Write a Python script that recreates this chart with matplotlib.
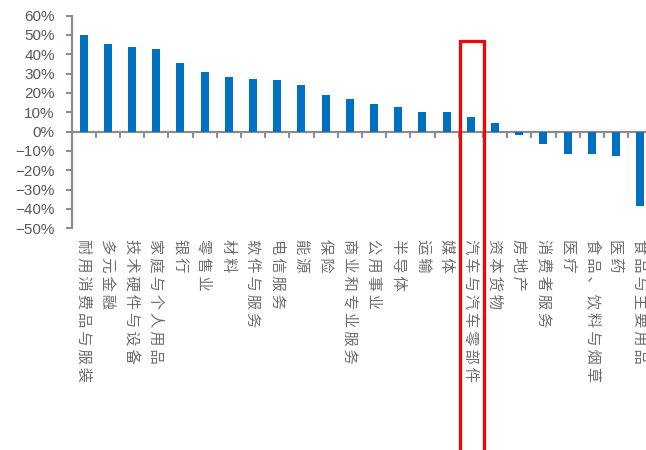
import matplotlib.pyplot as plt
from matplotlib.patches import Rectangle
from matplotlib.ticker import FuncFormatter, FixedLocator
import matplotlib.transforms as mtransforms

plt.rcParams["font.family"] = ["Liberation Sans", "Noto Sans CJK SC", "DejaVu Sans"]

categories = ["耐用消费品与服装", "多元金融", "技术硬件与设备", "家庭与个人用品", "银行",
              "零售业", "材料", "软件与服务", "电信服务", "能源", "保险", "商业和专业服务",
              "公用事业", "半导体", "运输", "媒体", "汽车与汽车零部件", "资本货物", "房地产",
              "消费者服务", "医疗", "食品、饮料与烟草", "医药", "食品与主要用品"]
values = [49.8, 45.2, 44.0, 42.6, 35.7, 30.7, 28.0, 27.2, 26.9, 24.3, 18.9, 16.9,
          14.4, 12.6, 10.2, 10.0, 7.4, 4.3, -1.8, -6.5, -11.5, -11.8, -12.8, -38.7]
highlight = "汽车与汽车零部件"

gray = "#8c8c8c"
text_gray = "#595959"

fig = plt.figure(figsize=(6.46, 4.5), dpi=100)
ax = fig.add_axes([71.5 / 646, 1 - 228.3 / 450, (652.3 - 71.5) / 646, (228.3 - 15.6) / 450])

x = list(range(len(categories)))
ax.bar(x, values, width=0.33, color="#0070C0", zorder=3)

ax.set_xlim(-0.5, len(categories) - 0.5)
ax.set_ylim(-50, 60)
ax.set_yticks(range(-50, 61, 10))
ax.yaxis.set_major_formatter(FuncFormatter(lambda v, p: "{:.0f}%".format(v).replace("-", "\u2212")))

for s in ["top", "right"]:
    ax.spines[s].set_visible(False)
ax.spines["left"].set_color(gray)
ax.spines["left"].set_linewidth(1.6)
ax.spines["bottom"].set_position(("data", 0))
ax.spines["bottom"].set_color(gray)
ax.spines["bottom"].set_linewidth(1.6)

ax.tick_params(axis="y", direction="out", length=4, width=1.4, color=gray,
               labelsize=11, labelcolor=text_gray, pad=8)
ax.xaxis.set_major_locator(FixedLocator([i + 0.5 for i in range(len(categories) - 1)]))
ax.set_xticklabels([])
ax.tick_params(axis="x", direction="out", length=4, width=1.4, color=gray)

# category names written downwards, a little spaced out like the original
trans = mtransforms.blended_transform_factory(ax.transData, ax.transAxes)
for i, name in enumerate(categories):
    ax.text(i, -0.05, "\u2009".join(name), transform=trans, rotation=-90, ha="center", va="top",
            fontsize=11, color="#6e6e6e", family=["Noto Sans CJK SC", "DejaVu Sans"])

# red box around the highlighted sector
hi = categories.index(highlight)
rect = Rectangle((hi - 0.45, -200), 1.0, 246.7, fill=False, edgecolor="#FF0000",
                 linewidth=2.3, clip_on=False, zorder=5)
ax.add_patch(rect)

fig.savefig("out.png", dpi=100)
